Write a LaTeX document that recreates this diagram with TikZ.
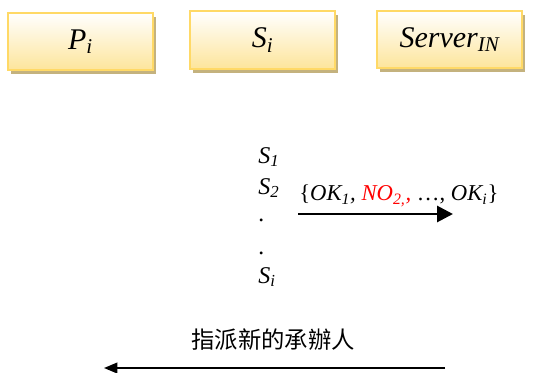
\documentclass[tikz,border=0pt]{standalone}
\usepackage{fontspec}
\setmainfont{Liberation Serif}
\newfontfamily\cjkfont{Noto Sans CJK TC}
\usetikzlibrary{shadows,arrows.meta}

\definecolor{boxline}{HTML}{FFD966}
\definecolor{boxfill}{HTML}{FDE59B}
\definecolor{boxshade}{HTML}{C4B27E}

\newcommand{\idx}[1]{\textsubscript{#1}}

\begin{document}
\begin{tikzpicture}[
    x=0.75pt, y=-0.75pt,
    party/.style={
        rectangle,
        minimum width=108.75pt,
        minimum height=43pt,
        draw=boxline,
        line width=1.5pt,
        top color=white,
        bottom color=boxfill,
        drop shadow={shadow xshift=2.5pt, shadow yshift=-3pt, fill=boxshade, opacity=1},
        font=\fontsize{22.5}{27}\selectfont\itshape
    },
    seq/.style={
        anchor=base west,
        inner sep=0pt,
        font=\fontsize{18}{21}\selectfont\itshape
    },
    msg/.style={
        -{Triangle[length=12pt,width=12pt]},
        line width=2.2pt
    },
    back/.style={
        -{Triangle[length=10pt,width=8pt]},
        line width=1.4pt
    }
]
\useasboundingbox (0,0) rectangle (536,372);

\node[party] (pi) at (80.5,41.5) {P\idx{i}};
\node[party] (si) at (262.5,40) {S\idx{i}};
\node[party] (server) at (449.5,39.5) {Server\idx{IN}};

\node[seq] (s1) at (258,163) {S\idx{1}};
\node[seq] (s2) at (258,194) {S\idx{2}};
\node[seq] (dot1) at (258.5,221) {.};
\node[seq] (dot2) at (258.5,254) {.};
\node[seq] (sn) at (258,283) {S\idx{i}};

\coordinate (okfrom) at (298,214);
\coordinate (okto) at (453,214);
\draw[msg] (okfrom) -- (okto)
    node[midway, above=1pt, xshift=17.5pt, font=\fontsize{17}{20}\selectfont] (oklist)
    {\{\textit{OK\idx{1},} \textcolor{red}{\textit{NO\idx{2,},}} …, \textit{OK\idx{i}}\}};

\coordinate (assignfrom) at (445,368);
\coordinate (assignto) at (104,368);
\draw[back] (assignfrom) -- (assignto)
    node[midway, above=9pt, xshift=-1pt, font=\cjkfont\fontsize{17.5}{20}\selectfont] (assign)
    {指派新的承辦人};

\end{tikzpicture}
\end{document}
